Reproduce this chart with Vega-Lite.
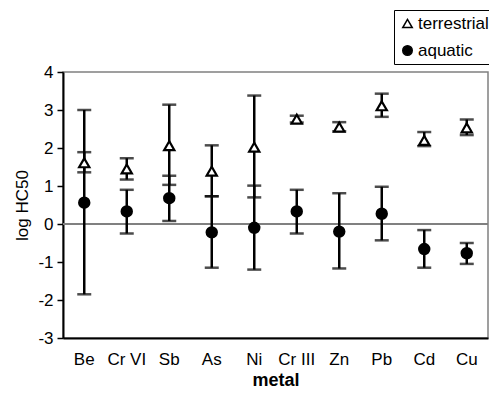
{
  "$schema": "https://vega.github.io/schema/vega-lite/v6.json",
  "autosize": "none",
  "width": 425,
  "height": 266,
  "padding": {"left": 63, "top": 72, "right": 1, "bottom": 55},
  "background": "white",
  "config": {
    "font": "Liberation Sans",
    "view": {"stroke": "#808080", "strokeWidth": 1.5}
  },
  "data": {
    "values": [
      {"metal": "Be", "group": "terrestrial", "value": 1.61, "lo": 1.36, "hi": 1.89},
      {"metal": "Be", "group": "aquatic", "value": 0.56, "lo": -1.85, "hi": 3.0},
      {"metal": "Cr VI", "group": "terrestrial", "value": 1.45, "lo": 1.17, "hi": 1.73},
      {"metal": "Cr VI", "group": "aquatic", "value": 0.33, "lo": -0.25, "hi": 0.9},
      {"metal": "Sb", "group": "terrestrial", "value": 2.06, "lo": 1.03, "hi": 3.14},
      {"metal": "Sb", "group": "aquatic", "value": 0.68, "lo": 0.08, "hi": 1.27},
      {"metal": "As", "group": "terrestrial", "value": 1.39, "lo": 0.73, "hi": 2.07},
      {"metal": "As", "group": "aquatic", "value": -0.22, "lo": -1.15, "hi": 0.73},
      {"metal": "Ni", "group": "terrestrial", "value": 2.02, "lo": 0.7, "hi": 3.38},
      {"metal": "Ni", "group": "aquatic", "value": -0.1, "lo": -1.2, "hi": 1.01},
      {"metal": "Cr III", "group": "terrestrial", "value": 2.76, "lo": 2.67, "hi": 2.85},
      {"metal": "Cr III", "group": "aquatic", "value": 0.33, "lo": -0.25, "hi": 0.9},
      {"metal": "Zn", "group": "terrestrial", "value": 2.55, "lo": 2.44, "hi": 2.68},
      {"metal": "Zn", "group": "aquatic", "value": -0.2, "lo": -1.17, "hi": 0.81},
      {"metal": "Pb", "group": "terrestrial", "value": 3.11, "lo": 2.82, "hi": 3.43},
      {"metal": "Pb", "group": "aquatic", "value": 0.27, "lo": -0.43, "hi": 0.98},
      {"metal": "Cd", "group": "terrestrial", "value": 2.2, "lo": 2.05, "hi": 2.42},
      {"metal": "Cd", "group": "aquatic", "value": -0.66, "lo": -1.15, "hi": -0.16},
      {"metal": "Cu", "group": "terrestrial", "value": 2.53, "lo": 2.34, "hi": 2.75},
      {"metal": "Cu", "group": "aquatic", "value": -0.77, "lo": -1.05, "hi": -0.5}
    ]
  },
  "encoding": {
    "x": {
      "field": "metal",
      "type": "nominal",
      "sort": ["Be", "Cr VI", "Sb", "As", "Ni", "Cr III", "Zn", "Pb", "Cd", "Cu"],
      "scale": {"paddingInner": 0, "paddingOuter": 0},
      "axis": {
        "title": "metal",
        "titleFontSize": 18,
        "titleFontWeight": "bold",
        "titleColor": "#000",
        "titlePadding": 4,
        "labelAngle": 0,
        "labelFontSize": 17,
        "labelColor": "#000",
        "labelPadding": 13,
        "ticks": false,
        "domainColor": "#000",
        "domainWidth": 2
      }
    }
  },
  "layer": [
    {
      "mark": {"type": "rule", "color": "#808080", "strokeWidth": 1.5},
      "encoding": {
        "x": null,
        "y": {
          "datum": 0,
          "type": "quantitative",
          "scale": {"domain": [-3, 4], "nice": false, "zero": false},
          "axis": {
            "title": "log HC50",
            "titleFontSize": 17,
            "titleFontWeight": "normal",
            "titleColor": "#000",
            "titlePadding": 6,
            "values": [-3, -2, -1, 0, 1, 2, 3, 4],
            "tickCount": 8,
            "labelExpr": "toString(datum.value)",
            "labelOverlap": false,
            "labelFontSize": 17,
            "labelColor": "#000",
            "labelPadding": 4,
            "tickSize": 6,
            "tickColor": "#000",
            "tickWidth": 1.5,
            "grid": false,
            "domainColor": "#000",
            "domainWidth": 2
          }
        }
      }
    },
    {
      "mark": {"type": "rule", "color": "#000", "strokeWidth": 2.5},
      "encoding": {
        "y": {"field": "lo", "type": "quantitative"},
        "y2": {"field": "hi"}
      }
    },
    {
      "mark": {"type": "tick", "color": "#000", "size": 14, "thickness": 2.5, "orient": "horizontal"},
      "encoding": {"y": {"field": "lo", "type": "quantitative"}}
    },
    {
      "mark": {"type": "tick", "color": "#000", "size": 14, "thickness": 2.5, "orient": "horizontal"},
      "encoding": {"y": {"field": "hi", "type": "quantitative"}}
    },
    {
      "mark": {"type": "point", "filled": true, "stroke": "#000", "strokeWidth": 2.2, "size": 105, "opacity": 1},
      "encoding": {
        "y": {"field": "value", "type": "quantitative"},
        "shape": {
          "field": "group",
          "type": "nominal",
          "scale": {"domain": ["terrestrial", "aquatic"], "range": ["triangle-up", "circle"]},
          "legend": {
            "title": null,
            "orient": "none",
            "legendX": 331,
            "legendY": -62,
            "strokeColor": "#000",
            "fillColor": "white",
            "padding": 5,
            "rowPadding": 9,
            "labelFontSize": 17,
            "labelColor": "#000",
            "labelOffset": 2,
            "symbolSize": 90,
            "encode": {
              "symbols": {
                "update": {
                  "shape": {"signal": "datum.value === 'terrestrial' ? 'triangle-up' : 'circle'"},
                  "fill": {"signal": "datum.value === 'terrestrial' ? 'white' : 'black'"},
                  "stroke": {"value": "#000"},
                  "strokeWidth": {"value": 2.2},
                  "opacity": {"value": 1},
                  "fillOpacity": {"value": 1},
                  "strokeOpacity": {"value": 1}
                }
              }
            }
          }
        },
        "fill": {
          "field": "group",
          "type": "nominal",
          "scale": {"domain": ["terrestrial", "aquatic"], "range": ["white", "black"]},
          "legend": null
        }
      }
    }
  ]
}
